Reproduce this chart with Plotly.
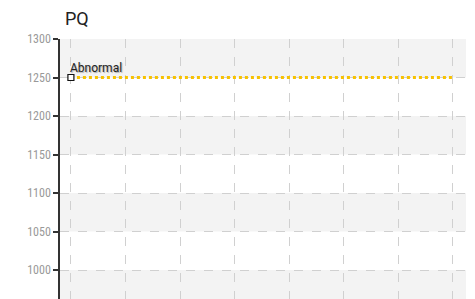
import plotly.graph_objects as go

title_text = "PQ"
x_vals = [0, 1, 2, 3, 4, 5, 6, 7]
y_vals = [1250, 1250, 1250, 1250, 1250, 1250, 1250, 1250]
point_label = "Abnormal"
y_ticks = [1000, 1050, 1100, 1150, 1200, 1250, 1300]
y_min, y_max = 952, 1300

fig = go.Figure()

# alternating bands (top band shaded, then every other one)
edges = [y_min] + y_ticks
n = len(edges) - 1
for i in range(n):
    lo, hi = edges[i], edges[i + 1]
    if (n - 1 - i) % 2 == 0:
        fig.add_shape(type="rect", xref="paper", yref="y", x0=0, x1=1, y0=lo, y1=hi,
                      fillcolor="#f3f3f3", line_width=0, layer="below")

fig.add_trace(go.Scatter(x=x_vals, y=y_vals, mode="lines",
                         line=dict(color="#f7c200", width=3, dash="dot"),
                         hoverinfo="skip", showlegend=False))
fig.add_trace(go.Scatter(x=x_vals[:1], y=y_vals[:1], mode="markers",
                         marker=dict(symbol="square", size=6, color="white",
                                     line=dict(width=1.2, color="#111")),
                         showlegend=False))

fig.add_annotation(x=x_vals[0], y=y_vals[0], text=point_label, showarrow=False,
                   xanchor="left", yanchor="bottom", xshift=-3, yshift=1,
                   font=dict(family="Roboto, sans-serif", size=12, color="#222",
                             shadow="1px 1px 1px #aaa"))

fig.update_layout(
    width=475, height=299,
    margin=dict(l=52, r=17, t=31, b=0),
    paper_bgcolor="white", plot_bgcolor="white",
    title=dict(text=title_text, x=57/475, xref="container", xanchor="left",
               y=1 - 11/299, yref="container", yanchor="middle",
               font=dict(family="Roboto, sans-serif", size=18, color="#222")),
    xaxis=dict(range=[-0.2, 7.24], tickvals=x_vals, showticklabels=False,
               showgrid=True, gridcolor="#d0d0d0", griddash="dash", gridwidth=1,
               zeroline=False, showline=False),
    yaxis=dict(range=[y_min, y_max], tickvals=y_ticks, showgrid=True,
               gridcolor="#d0d0d0", griddash="dash", gridwidth=1,
               zeroline=False, showline=True, linecolor="#333", linewidth=1.5,
               ticks="outside", ticklen=5, tickcolor="#333", tickwidth=1.5,
               tickfont=dict(family="Roboto Condensed, Liberation Sans Narrow, Roboto, sans-serif",
                             size=12, color="#999")),
)

fig.write_html("out.html")
